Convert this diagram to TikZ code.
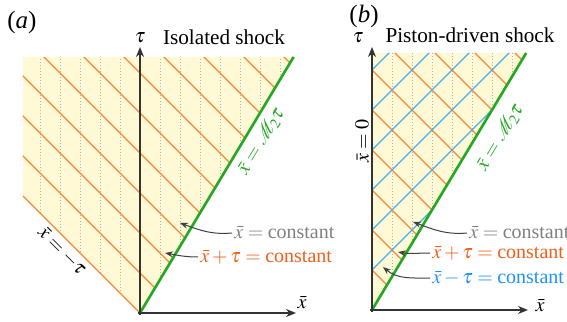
\documentclass[tikz,border=0pt]{standalone}
\usepackage{mathptmx}
\usepackage{fontspec}
\setmainfont{Liberation Serif}
\usetikzlibrary{arrows.meta}
\definecolor{shockgreen}{RGB}{34,168,34}
\definecolor{charorange}{RGB}{245,135,55}
\definecolor{noteorange}{RGB}{240,95,25}
\definecolor{charblue}{RGB}{70,175,240}
\definecolor{noteblue}{RGB}{30,145,250}
\definecolor{notegray}{RGB}{128,128,128}
\definecolor{regionyellow}{RGB}{255,249,214}
\begin{document}
\begin{tikzpicture}[x=10pt,y=10pt,font=\fontsize{10}{12}\selectfont,
  axisline/.style={line width=0.9pt,black!80,-{Stealth[length=5pt,width=4pt]}},
  pathline/.style={dash pattern=on 0.5pt off 1pt,line width=0.4pt,black!30},
  charplus/.style={line width=0.6pt,charorange},
  charminus/.style={line width=0.6pt,charblue},
  shockline/.style={line width=1.3pt,shockgreen},
  pointer/.style={line width=0.5pt,black!75,-{Stealth[length=4pt,width=3pt]}},
  title/.style={font=\fontsize{10.6}{12}\selectfont},
  tag/.style={font=\fontsize{12.5}{14}\selectfont}]
\useasboundingbox (-7,-0.4) rectangle (21.35,15.65);
\begin{scope}
\coordinate (Oa) at (0,0);
\fill[regionyellow] (0,0) -- (-5.85,5.85) -- (-5.85,12.8) -- (7.68,12.8) -- cycle;
\begin{scope}
\clip (0,0) -- (-5.85,5.85) -- (-5.85,12.8) -- (7.68,12.8) -- cycle;
\foreach \x in {-5,-4,-3,-2,-1,1,2,3,4,5,6,7} \draw[pathline] (\x,-1) -- (\x,14);
\foreach \c in {2,4,...,20} \draw[charplus] (\c-15,15) -- (\c+1,-1);
\end{scope}
\draw[charplus] (Oa) -- (-5.85,5.85);
\draw[shockline] (Oa) -- (7.68,12.8);
\coordinate (taEnd) at (0,13.3);
\coordinate (xaEnd) at (7.8,0);
\draw[axisline] (0,-0.1) -- (taEnd);
\draw[axisline] (-0.1,0) -- (xaEnd);
\node (taua) at (0,13.75) {$\tau$};
\node (xbara) at (8.1,0.5) {$\bar{x}$};
\node[title] (titlea) at (4.2,13.8) {Isolated shock};
\node[tag] (taga) at (-5.9,14.55) {(\textit{a})};
\node[shockgreen,rotate=59] (shocka) at (6.05,8.6) {$\bar{x}=\mathcal{M}_2\tau$};
\node[rotate=-45] (pistona) at (-3.9,3.1) {$\bar{x}=-\tau$};
\node[notegray,anchor=west,inner sep=1pt] (notexa) at (4.6,4.0) {$\bar{x}={}$constant};
\node[noteorange,anchor=west,inner sep=1pt] (noteplusa) at (2.9,2.8) {$\bar{x}+\tau={}$constant};
\coordinate (ptxa) at (2.0,4.5);
\coordinate (ptplusa) at (1.25,3.0);
\draw[pointer] (notexa.west) to[out=185,in=-20] (ptxa);
\draw[pointer] (noteplusa.west) to[out=180,in=-10] (ptplusa);
\end{scope}
\begin{scope}[shift={(11.6,0.15)}]
\coordinate (Ob) at (0,0);
\fill[regionyellow] (0,0) -- (0,12.85) -- (7.71,12.85) -- cycle;
\begin{scope}
\clip (0,0) -- (0,12.85) -- (7.71,12.85) -- cycle;
\foreach \x in {1,...,7} \draw[pathline] (\x,-1) -- (\x,14);
\foreach \c in {2,4,...,20} \draw[charplus] (\c-15,15) -- (\c+1,-1);
\foreach \d in {-12,-10,...,-2} \draw[charminus] (-1,-1-\d) -- (14,14-\d);
\end{scope}
\draw[shockline] (Ob) -- (7.71,12.85);
\coordinate (tbEnd) at (0,13.15);
\coordinate (xbEnd) at (7.8,0);
\draw[axisline] (0,-0.1) -- (tbEnd);
\draw[axisline] (-0.1,0) -- (xbEnd);
\node (taub) at (-0.7,13.6) {$\tau$};
\node (xbarb) at (8.4,0.2) {$\bar{x}$};
\node[title] (titleb) at (4.9,13.75) {Piston-driven shock};
\node[tag] (tagb) at (-0.4,14.7) {(\textit{b})};
\node[rotate=90] (pistonb) at (-0.5,8.45) {$\bar{x}=0$};
\node[shockgreen,rotate=59] (shockb) at (6.4,8.65) {$\bar{x}=\mathcal{M}_2\tau$};
\node[notegray,anchor=west,inner sep=1pt] (notexb) at (4.75,3.85) {$\bar{x}={}$constant};
\node[noteorange,anchor=west,inner sep=1pt] (noteplusb) at (2.9,2.85) {$\bar{x}+\tau={}$constant};
\node[noteblue,anchor=west,inner sep=1pt] (noteminusb) at (2.9,1.6) {$\bar{x}-\tau={}$constant};
\coordinate (ptxb) at (2.05,4.4);
\coordinate (ptplusb) at (1.3,2.9);
\coordinate (ptminusb) at (0.55,2.15);
\draw[pointer] (notexb.west) to[out=185,in=-20] (ptxb);
\draw[pointer] (noteplusb.west) to[out=180,in=-10] (ptplusb);
\draw[pointer] (noteminusb.west) to[out=180,in=-40] (ptminusb);
\end{scope}
\end{tikzpicture}
\end{document}
